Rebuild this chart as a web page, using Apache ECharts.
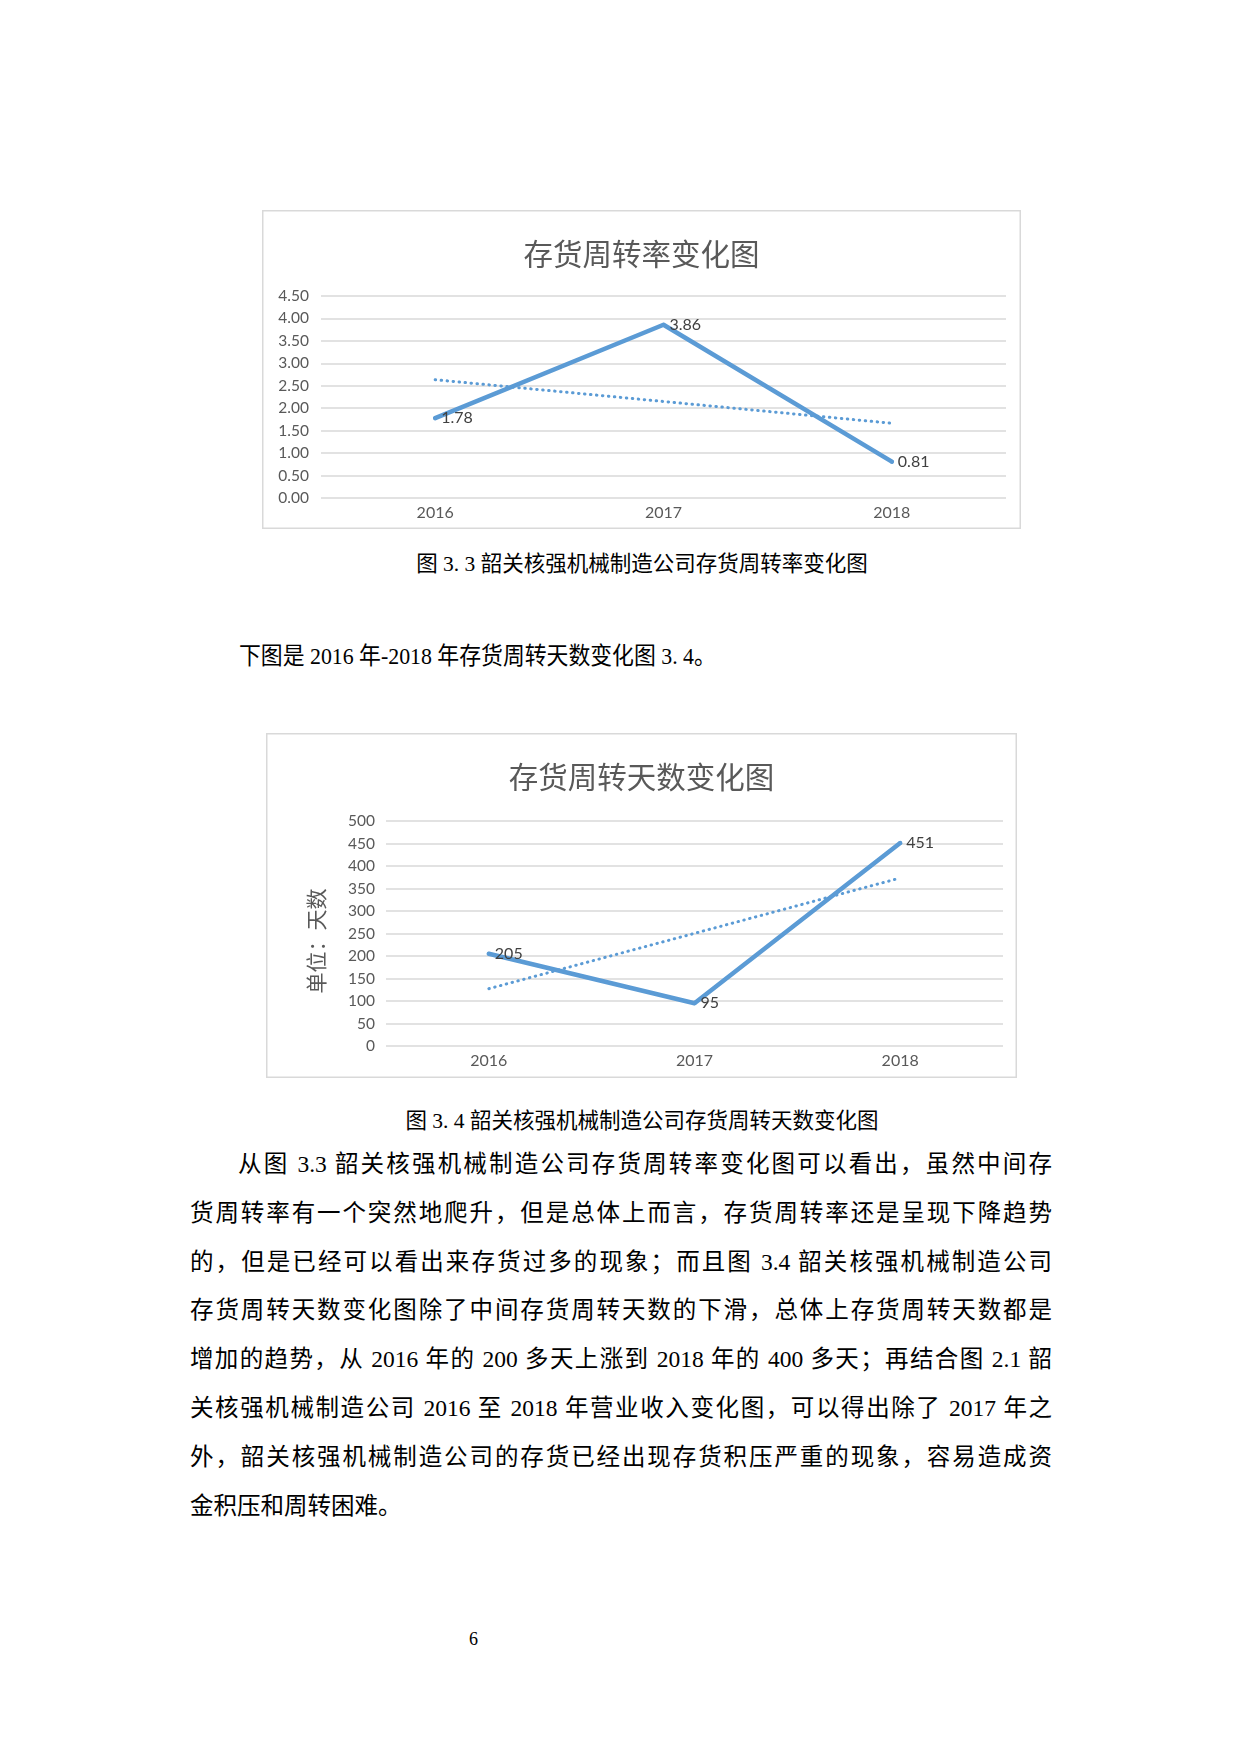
<!DOCTYPE html>
<html>
<head>
<meta charset="utf-8">
<script src="https://cdn.jsdelivr.net/npm/echarts@6/dist/echarts.min.js"></script>
<style>
  html, body { margin:0; padding:0; background:#fff; }
  body { width:1240px; height:1754px; position:relative; overflow:hidden;
         font-family:"Liberation Serif","Noto Sans CJK SC",serif; color:#000; }
  .chart { position:absolute; }
  .t { position:absolute; white-space:nowrap; line-height:1; }
  .cap { font-size:21.5px; width:700px; left:292px; text-align:center; }
  .para { position:absolute; left:190px; width:862px; font-size:23.5px; line-height:1;
          text-align:justify; text-align-last:justify; white-space:nowrap; }
  .last { text-align-last:left; }
</style>
</head>
<body>
<div id="c1" class="chart" style="left:262px;top:210px;width:759px;height:319px;"></div>
<div class="t cap" style="top:554px;">图 3. 3 韶关核强机械制造公司存货周转率变化图</div>
<div class="t" style="left:239px;top:644px;font-size:24px;transform:scaleX(0.91);transform-origin:0 0;">下图是 2016 年-2018 年存货周转天数变化图 3. 4。</div>
<div id="c2" class="chart" style="left:266px;top:733px;width:751px;height:345px;"></div>
<div class="t cap" style="top:1111px;">图 3. 4 韶关核强机械制造公司存货周转天数变化图</div>

<div class="para" style="top:1153px;left:238px;width:814px;">从图 3.3 韶关核强机械制造公司存货周转率变化图可以看出，虽然中间存</div>
<div class="para" style="top:1202px;">货周转率有一个突然地爬升，但是总体上而言，存货周转率还是呈现下降趋势</div>
<div class="para" style="top:1251px;">的，但是已经可以看出来存货过多的现象；而且图 3.4 韶关核强机械制造公司</div>
<div class="para" style="top:1299px;">存货周转天数变化图除了中间存货周转天数的下滑，总体上存货周转天数都是</div>
<div class="para" style="top:1348px;">增加的趋势，从 2016 年的 200 多天上涨到 2018 年的 400 多天；再结合图 2.1 韶</div>
<div class="para" style="top:1397px;">关核强机械制造公司 2016 至 2018 年营业收入变化图，可以得出除了 2017 年之</div>
<div class="para" style="top:1446px;">外，韶关核强机械制造公司的存货已经出现存货积压严重的现象，容易造成资</div>
<div class="para last" style="top:1495px;">金积压和周转困难。</div>
<div class="t" style="left:469px;top:1630px;font-size:18px;">6</div>

<script>
// ---- data ----
const years = ['2016', '2017', '2018'];
const turnoverRate = [1.78, 3.86, 0.81];
const turnoverDays = [205, 95, 451];
const rateAxis = { min: 0, max: 4.5, interval: 0.5 };
const daysAxis = { min: 0, max: 500, interval: 50 };
const title1 = '存货周转率变化图';
const title2 = '存货周转天数变化图';
const yName2 = '单位：天数';

// linear trendline (Excel style) from the series values
function trend(vals) {
  const n = vals.length;
  const xs = vals.map((_, i) => i + 1);
  const mx = xs.reduce((a, b) => a + b, 0) / n;
  const my = vals.reduce((a, b) => a + b, 0) / n;
  let sxy = 0, sxx = 0;
  xs.forEach((x, i) => { sxy += (x - mx) * (vals[i] - my); sxx += (x - mx) * (x - mx); });
  const b = sxy / sxx, a = my - b * mx;
  return xs.map(x => +(a + b * x).toFixed(4));
}

const BLUE = '#5B9BD5';
const GRID = '#D9D9D9';
const LBL = '#595959';

function makeOption(opts) {
  const graphic = [{
    type: 'rect', silent: true, z: -1,
    shape: { x: 0.75, y: 0.75, width: opts.w - 1.5, height: opts.h - 1.5 },
    style: { fill: 'none', stroke: GRID, lineWidth: 1.5 }
  }];
  if (opts.yName) {
    graphic.push({
      type: 'text', silent: true, x: opts.yName.x, y: opts.yName.y, rotation: Math.PI / 2,
      style: { text: opts.yName.text, fill: LBL, font: '21px "Noto Sans CJK SC"',
               align: 'center', verticalAlign: 'middle' }
    });
  }
  return {
    animation: false,
    title: {
      text: opts.title, left: 'center', top: opts.titleTop,
      textStyle: { fontFamily: '"Noto Sans CJK SC"', fontSize: 29.5, fontWeight: 'normal', color: LBL }
    },
    graphic: graphic,
    grid: opts.grid,
    xAxis: {
      type: 'category', data: years, boundaryGap: true,
      axisLine: { show: false }, axisTick: { show: false },
      axisLabel: { color: LBL, fontFamily: 'Lato', fontSize: 16, margin: 7 }
    },
    yAxis: Object.assign({
      type: 'value',
      axisLine: { show: false }, axisTick: { show: false },
      splitLine: { lineStyle: { color: GRID, width: 1.5 } },
      axisLabel: { color: LBL, fontFamily: 'Lato', fontSize: 15.5, margin: opts.labelMargin, formatter: opts.fmt }
    }, opts.axis),
    series: [
      {
        type: 'line', data: trend(opts.data), z: 2,
        symbol: 'none', silent: true,
        lineStyle: { color: BLUE, width: 3, type: [0.5, 5.5], cap: 'round' }
      },
      {
        type: 'line', data: opts.data, z: 3,
        symbol: 'circle', symbolSize: 4, showSymbol: true,
        itemStyle: { color: BLUE },
        lineStyle: { color: BLUE, width: 4.5, cap: 'round', join: 'round' },
        label: { show: true, position: 'right', distance: 4, color: '#404040',
                 fontFamily: 'Lato', fontSize: 16, formatter: opts.lblFmt }
      }
    ]
  };
}

const c1 = echarts.init(document.getElementById('c1'), null, { renderer: 'canvas' });
c1.setOption(makeOption({
  title: title1, titleTop: 24, w: 759, h: 319,
  grid: { left: 59, right: 15, top: 86, bottom: 31, containLabel: false },
  axis: rateAxis, labelMargin: 12,
  fmt: v => v.toFixed(2),
  lblFmt: p => p.value.toFixed(2),
  data: turnoverRate
}));

const c2 = echarts.init(document.getElementById('c2'), null, { renderer: 'canvas' });
c2.setOption(makeOption({
  title: title2, titleTop: 24, w: 751, h: 345,
  grid: { left: 120, right: 14, top: 88, bottom: 32, containLabel: false },
  axis: daysAxis, labelMargin: 11,
  fmt: v => String(v),
  lblFmt: p => String(p.value),
  data: turnoverDays,
  yName: { text: yName2, x: 50, y: 208 }
}));
</script>
</body>
</html>
